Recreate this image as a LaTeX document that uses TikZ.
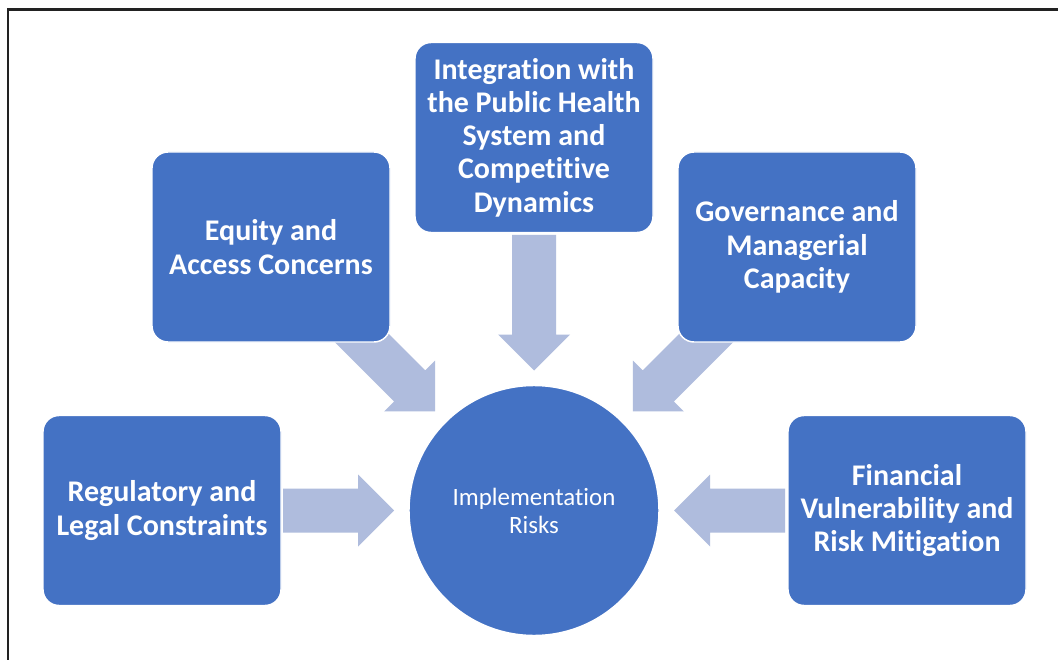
\documentclass[tikz,border=0pt]{standalone}
\usepackage{fontspec}
\setmainfont{Carlito}[Ligatures={NoCommon}]
\usetikzlibrary{calc}

\definecolor{boxblue}{HTML}{4472C4}
\definecolor{arrowblue}{HTML}{AFBCDD}
\definecolor{framegray}{HTML}{222222}

% Block arrow pointing from node #1 to node #2; the shaft begins #3 away from
% the centre of #1 and the tip stops 105pt short of the centre of #2.
\newcommand\blockarrow[3]{%
  \path ($(#2)!105pt!(#1)$) coordinate (tip)
        ($(#2)!132pt!(#1)$) coordinate (hb)
        ($(#1)!#3!(#2)$)   coordinate (st);
  \fill[arrowfill]
    ($(st)!16.5pt!90:(tip)$) -- ($(hb)!16.5pt!90:(tip)$) --
    ($(hb)!27pt!90:(tip)$) -- (tip) -- ($(hb)!27pt!-90:(tip)$) --
    ($(hb)!16.5pt!-90:(tip)$) -- ($(st)!16.5pt!-90:(tip)$) -- cycle;
}

\begin{document}
\begin{tikzpicture}[x=0.75pt,y=-0.75pt,
  topic/.style={rectangle, rounded corners=12pt, fill=boxblue, draw=white,
    line width=1.1pt, minimum width=178.5pt, minimum height=142.5pt,
    inner sep=0pt, align=center, text=white,
    font=\fontsize{22.5}{25}\selectfont\bfseries},
  hub/.style={circle, fill=boxblue, draw=white, line width=1.1pt,
    minimum size=187.5pt, inner sep=0pt, align=center, text=white,
    font=\fontsize{18.7}{21}\selectfont},
  arrowfill/.style={fill=arrowblue},
  frameline/.style={draw=framegray, line width=1.9pt}]

\fill[white] (0,0) rectangle (1058,660);
\useasboundingbox (0,0) rectangle (1058,660);

% outer frame
\draw[frameline] (7.8,660) -- (7.8,9.4) -- (1058,9.4);

% anchor positions of the nodes
\coordinate (p-risk) at (534,510.5);
\coordinate (p-eq)   at (271,247);
\coordinate (p-int)  at (534,137.5);
\coordinate (p-gov)  at (797,247);
\coordinate (p-reg)  at (162,510.5);
\coordinate (p-fin)  at (907,510.5);

% placeholders so the arrows can be drawn underneath the boxes
\path (p-risk) coordinate (risk)
      (p-eq) coordinate (eq) (p-int) coordinate (int) (p-gov) coordinate (gov)
      (p-reg) coordinate (reg) (p-fin) coordinate (fin);

\blockarrow{eq}{risk}{80pt}
\blockarrow{int}{risk}{73pt}
\blockarrow{gov}{risk}{80pt}
\blockarrow{reg}{risk}{90.75pt}
\blockarrow{fin}{risk}{91.5pt}

\node[hub]   (riskc) at (p-risk) {Implementation\\Risks};
\node[topic] (eqb)   at (p-eq)   {Equity and\\Access Concerns};
\node[topic] (intb)  at (p-int)  {Integration with\\the Public Health\\System and\\Competitive\\Dynamics};
\node[topic] (govb)  at (p-gov)  {Governance and\\Managerial\\Capacity};
\node[topic] (regb)  at (p-reg)  {Regulatory and\\Legal Constraints};
\node[topic] (finb)  at (p-fin)  {Financial\\Vulnerability and\\Risk Mitigation};

\end{tikzpicture}
\end{document}
